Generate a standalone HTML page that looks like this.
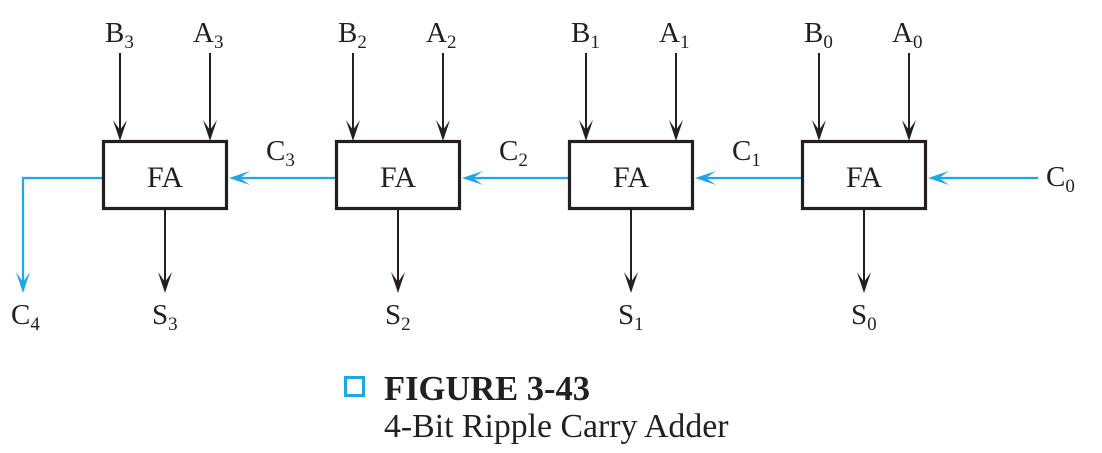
<!DOCTYPE html>
<html><head><meta charset="utf-8"><style>
html,body{margin:0;padding:0;background:#fff;}
svg{display:block;}
text{font-family:"Liberation Serif",serif;fill:#231f20;}
</style></head><body>
<svg width="1102" height="453" viewBox="0 0 1102 453" xmlns="http://www.w3.org/2000/svg">
<defs>
<g id="ad"><path d="M0,0 L-7,-21 L0,-11 L7,-21 Z" fill="#231f20"/></g>
<g id="adb"><path d="M0,0 L-7,-21 L0,-11 L7,-21 Z" fill="#1aa8e6"/></g>
<g id="alb"><path d="M0,0 L21,-7 L11,0 L21,7 Z" fill="#1aa8e6"/></g>
</defs>
<g stroke="#231f20" stroke-width="2" fill="none">
<line x1="120" y1="53" x2="120" y2="132"/><line x1="210" y1="53" x2="210" y2="132"/>
<line x1="353" y1="53" x2="353" y2="132"/><line x1="443" y1="53" x2="443" y2="132"/>
<line x1="586" y1="53" x2="586" y2="132"/><line x1="676" y1="53" x2="676" y2="132"/>
<line x1="819" y1="53" x2="819" y2="132"/><line x1="909" y1="53" x2="909" y2="132"/>
<line x1="165" y1="209" x2="165" y2="284"/>
<line x1="398" y1="209" x2="398" y2="284"/>
<line x1="631" y1="209" x2="631" y2="284"/>
<line x1="864" y1="209" x2="864" y2="284"/>
</g>
<g>
<use href="#ad" x="120" y="141"/><use href="#ad" x="210" y="141"/>
<use href="#ad" x="353" y="141"/><use href="#ad" x="443" y="141"/>
<use href="#ad" x="586" y="141"/><use href="#ad" x="676" y="141"/>
<use href="#ad" x="819" y="141"/><use href="#ad" x="909" y="141"/>
<use href="#ad" x="165" y="293"/><use href="#ad" x="398" y="293"/>
<use href="#ad" x="631" y="293"/><use href="#ad" x="864" y="293"/>
</g>
<g stroke="#1aa8e6" stroke-width="2.2" fill="none">
<polyline points="103,178 23,178 23,284"/>
<line x1="240" y1="178" x2="336" y2="178"/>
<line x1="473" y1="178" x2="569" y2="178"/>
<line x1="706" y1="178" x2="802" y2="178"/>
<line x1="939" y1="178" x2="1038" y2="178"/>
</g>
<use href="#adb" x="23" y="293"/>
<use href="#alb" x="229" y="178"/><use href="#alb" x="462" y="178"/>
<use href="#alb" x="695" y="178"/><use href="#alb" x="928" y="178"/>
<g stroke="#231f20" stroke-width="3.2" fill="#fff">
<rect x="103.5" y="141.5" width="123" height="67"/>
<rect x="336.5" y="141.5" width="123" height="67"/>
<rect x="569.5" y="141.5" width="123" height="67"/>
<rect x="802.5" y="141.5" width="123" height="67"/>
</g>
<g font-size="30" text-anchor="middle">
<text x="165" y="187">FA</text><text x="398" y="187">FA</text>
<text x="631" y="187">FA</text><text x="864" y="187">FA</text>
</g>
<g font-size="29">
<text x="105" y="42">B<tspan font-size="19" dy="6">3</tspan></text>
<text x="193" y="42">A<tspan font-size="19" dy="6">3</tspan></text>
<text x="338" y="42">B<tspan font-size="19" dy="6">2</tspan></text>
<text x="426" y="42">A<tspan font-size="19" dy="6">2</tspan></text>
<text x="571" y="42">B<tspan font-size="19" dy="6">1</tspan></text>
<text x="659" y="42">A<tspan font-size="19" dy="6">1</tspan></text>
<text x="804" y="42">B<tspan font-size="19" dy="6">0</tspan></text>
<text x="892" y="42">A<tspan font-size="19" dy="6">0</tspan></text>
<text x="266" y="160">C<tspan font-size="19" dy="6">3</tspan></text>
<text x="499" y="160">C<tspan font-size="19" dy="6">2</tspan></text>
<text x="732" y="160">C<tspan font-size="19" dy="6">1</tspan></text>
<text x="1046" y="186">C<tspan font-size="19" dy="6">0</tspan></text>
<text x="11" y="324">C<tspan font-size="19" dy="6">4</tspan></text>
<text x="152" y="324">S<tspan font-size="19" dy="6">3</tspan></text>
<text x="385" y="324">S<tspan font-size="19" dy="6">2</tspan></text>
<text x="618" y="324">S<tspan font-size="19" dy="6">1</tspan></text>
<text x="851" y="324">S<tspan font-size="19" dy="6">0</tspan></text>
</g>
<rect x="345.5" y="377.5" width="18" height="18" fill="none" stroke="#1aa8e6" stroke-width="3"/>
<text x="384" y="400" font-size="34.5" font-weight="bold">FIGURE 3-43</text>
<text x="384" y="437" font-size="33.8">4-Bit Ripple Carry Adder</text>
</svg>
</body></html>
